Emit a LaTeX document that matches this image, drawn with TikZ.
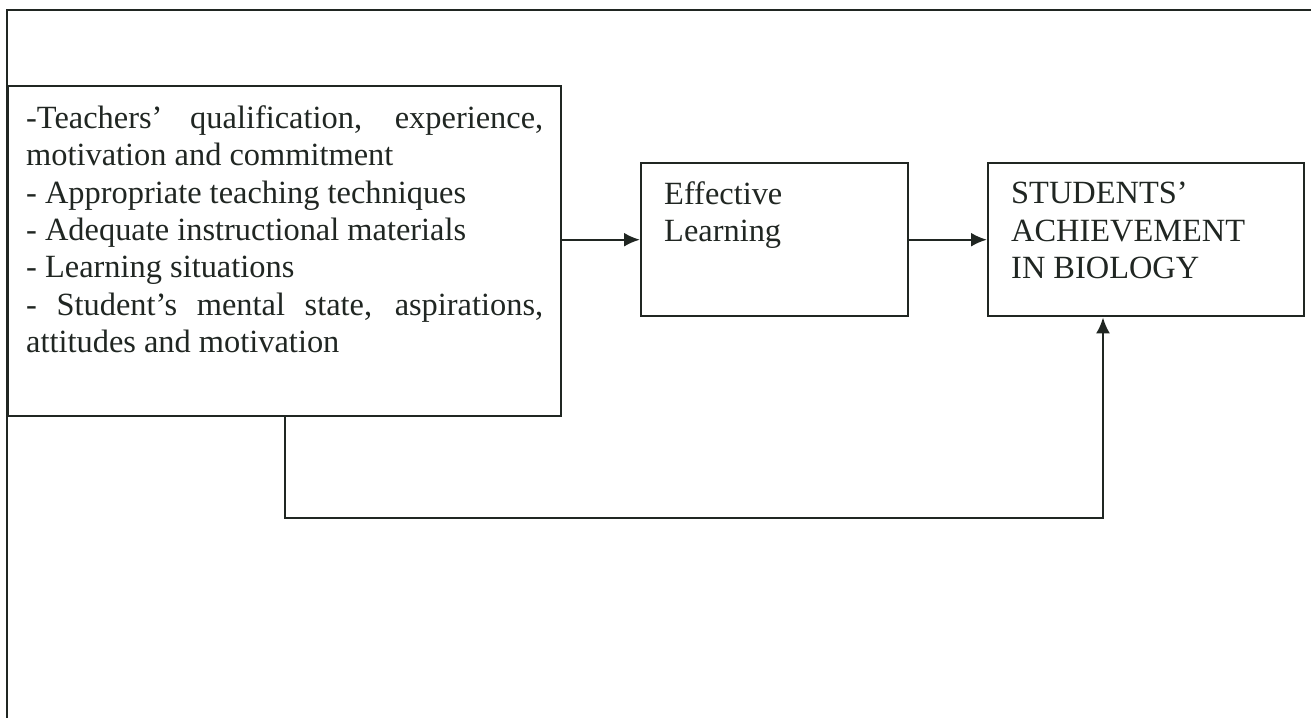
\documentclass[tikz,border=0pt]{standalone}
\usepackage{fontspec}
\setmainfont{Liberation Serif}
\usepackage{tikz}
\usetikzlibrary{arrows.meta,positioning}
\usepackage{xcolor}
\definecolor{inkgray}{RGB}{32,38,34}
\tikzstyle{box} = [draw=inkgray, line width=1.2pt, anchor=north west, inner ysep=0pt, text=inkgray]
\tikzstyle{arrow} = [draw=inkgray, line width=1.2pt, -{Latex[length=8pt,width=7pt]}]
\newcommand{\boxfont}{\fontsize{16.2}{18.7}\selectfont}

\begin{document}
\begin{tikzpicture}[x=0.5pt, y=-0.5pt]
\useasboundingbox (0,0) rectangle (1311,718);

% Frame
\draw[inkgray, line width=1.2pt] (1311,10) -- (7,10) -- (7,718);

% Boxes
\node[box, inner xsep=9pt] (factors) at (7,85)
  {\boxfont\parbox[c][165pt][t]{258.5pt}{\vspace*{9.6pt}%
  -Teachers' qualification, experience,\linebreak
  motivation and commitment\\
  - Appropriate teaching techniques\\
  - Adequate instructional materials\\
  - Learning situations\\
  - Student's mental state, aspirations,\linebreak
  attitudes and motivation}};
\node[box, inner xsep=11.5pt] (effective) at (640,162)
  {\boxfont\parbox[c][76.5pt][t]{110.5pt}{\vspace*{9.1pt}\raggedright
  Effective\\Learning}};
\node[box, inner xsep=11.5pt] (achieve) at (987,162)
  {\boxfont\parbox[c][76.5pt][t]{135pt}{\vspace*{9.6pt}\raggedright
  STUDENTS'\\ACHIEVEMENT\\IN BIOLOGY}};

% Arrows
\draw[arrow] (effective.west -| factors.east) -- (effective.west);
\draw[arrow] (effective.east) -- (achieve.west);

% Feedback path
\coordinate (fb) at (1103,518);
\draw[arrow] (factors.south) |- (fb) -- (fb |- achieve.south);
\end{tikzpicture}
\end{document}
